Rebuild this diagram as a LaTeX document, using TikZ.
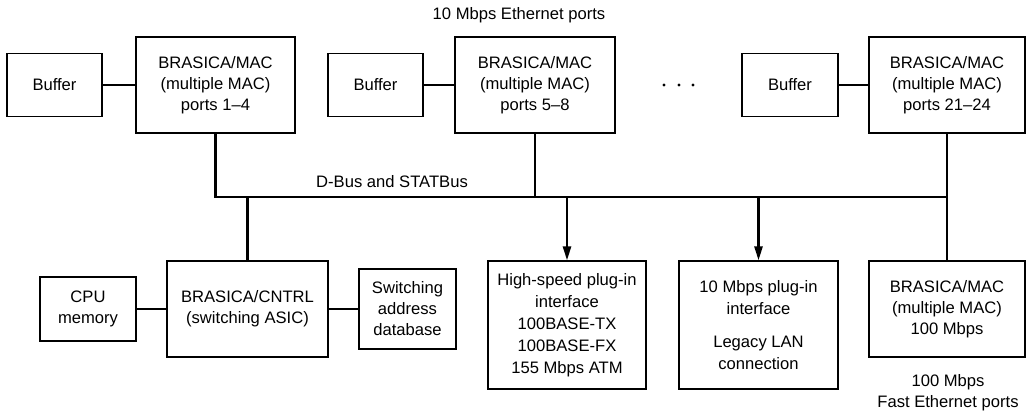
\documentclass[tikz,border=0pt]{standalone}
\usepackage{fontspec}
\setmainfont{Liberation Sans}
\usetikzlibrary{arrows.meta}

\begin{document}
\begin{tikzpicture}[x=1pt, y=-1pt, >={Triangle[length=14pt, width=8pt]},
		every node/.style={font=\fontsize{16.6}{21}\selectfont, align=center},
		box/.style={draw, line width=1.2pt, inner sep=0pt},
		link/.style={line width=2.6pt}]
	\useasboundingbox (0,0) rectangle (1026,416);
	
	% 上排：缓冲区与 MAC
	\node[box, minimum width=95, minimum height=63] (buf1) at (54.5, 85) {Buffer};
	\node[box, minimum width=159, minimum height=96] (mac1) at (215.5, 85) {BRASICA/MAC\\(multiple MAC)\\ports 1--4};
	\node[box, minimum width=95, minimum height=63] (buf2) at (375.5, 85) {Buffer};
	\node[box, minimum width=160, minimum height=96] (mac2) at (535, 85) {BRASICA/MAC\\(multiple MAC)\\ports 5--8};
	\node[box, minimum width=96, minimum height=63] (buf3) at (790, 85) {Buffer};
	\node[box, minimum width=156, minimum height=96] (mac3) at (947, 85) {BRASICA/MAC\\(multiple MAC)\\ports 21--24};
	
	\node (ports10) at (519, 15) {10 Mbps Ethernet ports};
	\foreach \x in {664, 679, 693}
		\fill (\x, 85) circle (1.7pt);
	
	\draw[link] (buf1) -- (mac1);
	\draw[link] (buf2) -- (mac2);
	\draw[link] (buf3) -- (mac3);
	
	% 下排
	\node[box, minimum width=96, minimum height=64] (cpu) at (88, 309) {CPU\\memory};
	\node[box, minimum width=161, minimum height=96] (cntrl) at (247.5, 309) {BRASICA/CNTRL\\(switching ASIC)};
	\node[box, minimum width=97, minimum height=80] (addr) at (407.5, 309) {Switching\\address\\database};
	\node[box, minimum width=158, minimum height=128, font=\fontsize{16.6}{22}\selectfont] (hs) at (567, 325)
		{High-speed plug-in\\interface\\100BASE-TX\\100BASE-FX\\155 Mbps ATM};
	\node[box, minimum width=159, minimum height=128, font=\fontsize{16.6}{22}\selectfont] (plug10) at (758.5, 325)
		{10 Mbps plug-in\\interface\\[11pt]Legacy LAN\\connection};
	\node[box, minimum width=156, minimum height=96] (mac100) at (947, 309) {BRASICA/MAC\\(multiple MAC)\\100 Mbps};
	
	\node (ports100) at (948, 393) {100 Mbps\\Fast Ethernet ports};
	
	\draw[link] (cpu) -- (cntrl);
	\draw[link] (cntrl) -- (addr);
	
	% 总线
	\coordinate (bus) at (0, 197);
	\node (busname) at (392, 182) {D-Bus and STATBus};
	\draw[link] (mac1.south) |- (mac3.south |- bus);
	\draw[link] (mac2.south) -- (mac2.south |- bus);
	\draw[link] (mac3.south) -- (mac100.north);
	\draw[link] (cntrl.north |- bus) -- (cntrl.north);
	\draw[link, ->] (hs.north |- bus) -- (hs.north);
	\draw[link, ->] (plug10.north |- bus) -- (plug10.north);
\end{tikzpicture}
\end{document}
